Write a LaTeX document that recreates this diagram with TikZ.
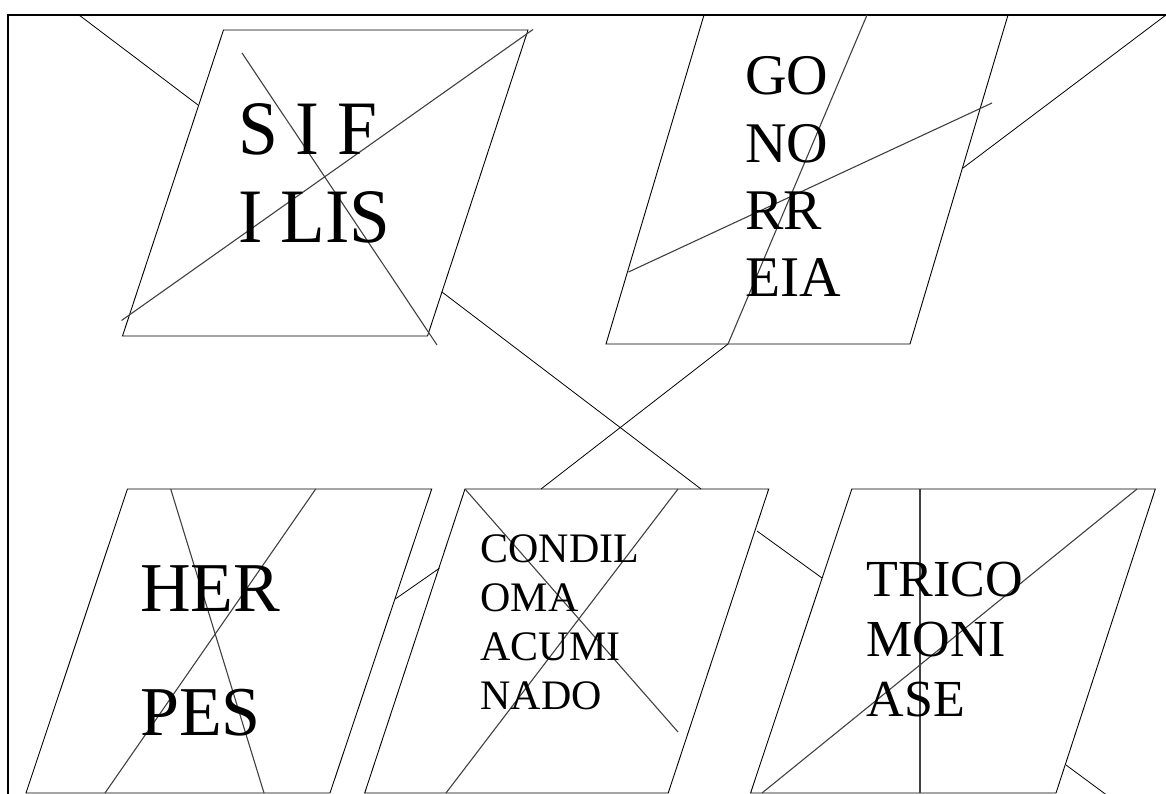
\documentclass[tikz,border=0pt]{standalone}
\usepackage{fontspec}
\setmainfont{Liberation Serif}
\tikzset{
  box/.style={draw=black, line width=0.9pt, line join=miter},
  cross/.style={draw=black!75, line width=1.1pt},
  link/.style={draw=black, line width=0.8pt},
  frameline/.style={draw=black, line width=2.2pt},
  lbl/.style={anchor=base west, inner sep=0pt, outer sep=0pt, text=black}
}
\begin{document}
\begin{tikzpicture}[x=1pt, y=-1pt]
\useasboundingbox (0,0) rectangle (1166,794);
\begin{scope}
\clip (0,0) rectangle (1166,794);
% frame
\coordinate (fbl) at (8,800);
\coordinate (ftl) at (8,15);
\coordinate (ftr) at (1172,15);
\draw[frameline] (fbl) -- (ftl) -- (ftr);

% ---------- SIFILIS ----------
\coordinate (s1) at (223.5,30);
\coordinate (s2) at (528,30);
\coordinate (s3) at (427.5,336);
\coordinate (s4) at (122.5,336);
\draw[box] (s1) -- (s2) -- (s3) -- (s4) -- cycle;
\coordinate (sa1) at (121.5,320.5);
\coordinate (sa2) at (533,29.5);
\coordinate (sb1) at (242,53);
\coordinate (sb2) at (437,345);
\draw[cross] (sa1) -- (sa2);
\draw[cross] (sb1) -- (sb2);
\node[lbl] (sif1) at (238,155) {\fontsize{77}{77}\selectfont\scalebox{0.93}[1]{S I F}};
\node[lbl] (sif2) at (238,242.7) {\fontsize{77}{77}\selectfont\scalebox{0.95}[1]{I LIS}};

% ---------- GONORREIA ----------
\coordinate (g1) at (704,15);
\coordinate (g2) at (1008,15);
\coordinate (g3) at (910,344);
\coordinate (g4) at (606,344);
\draw[box] (g1) -- (g2) -- (g3) -- (g4) -- cycle;
\coordinate (ga1) at (867,15);
\coordinate (ga2) at (728,344);
\coordinate (gb1) at (628.5,272);
\coordinate (gb2) at (992,103);
\draw[cross] (ga1) -- (ga2);
\draw[cross] (gb1) -- (gb2);
\node[lbl] (go1) at (745,95) {\fontsize{57.5}{57.5}\selectfont GO};
\node[lbl] (go2) at (745,162.2) {\fontsize{57.5}{57.5}\selectfont NO};
\node[lbl] (go3) at (745,229.4) {\fontsize{57.5}{57.5}\selectfont RR};
\node[lbl] (go4) at (745,296.6) {\fontsize{57.5}{57.5}\selectfont EIA};

% ---------- HERPES ----------
\coordinate (h1) at (127.4,489);
\coordinate (h2) at (431.7,489);
\coordinate (h3) at (330,793);
\coordinate (h4) at (26,793);
\draw[box] (h1) -- (h2) -- (h3) -- (h4) -- cycle;
\coordinate (ha1) at (170.7,489);
\coordinate (ha2) at (264,793);
\coordinate (hb1) at (315.7,489);
\coordinate (hb2) at (105,793);
\draw[cross] (ha1) -- (ha2);
\draw[cross] (hb1) -- (hb2);
\node[lbl] (her1) at (140.3,611.7) {\fontsize{70}{70}\selectfont HER};
\node[lbl] (her2) at (140.3,735) {\fontsize{70}{70}\selectfont PES};

% ---------- CONDILOMA ----------
\coordinate (c1) at (465,489);
\coordinate (c2) at (768.7,489);
\coordinate (c3) at (668.2,793);
\coordinate (c4) at (364.7,793);
\draw[box] (c1) -- (c2) -- (c3) -- (c4) -- cycle;
\coordinate (ca1) at (465,489);
\coordinate (ca2) at (678,732);
\coordinate (cb1) at (678,489);
\coordinate (cb2) at (446,793);
\draw[cross] (ca1) -- (ca2);
\draw[cross] (cb1) -- (cb2);
\node[lbl] (con1) at (480.4,562) {\fontsize{42}{42}\selectfont CONDIL};
\node[lbl] (con2) at (480.4,611) {\fontsize{42}{42}\selectfont OMA};
\node[lbl] (con3) at (480.4,660) {\fontsize{42}{42}\selectfont ACUMI};
\node[lbl] (con4) at (480.4,709) {\fontsize{42}{42}\selectfont NADO};

% ---------- TRICOMONIASE ----------
\coordinate (t1) at (851.8,489);
\coordinate (t2) at (1155.3,489);
\coordinate (t3) at (1056,793);
\coordinate (t4) at (750.6,793);
\draw[box] (t1) -- (t2) -- (t3) -- (t4) -- cycle;
\coordinate (ta1) at (920,489);
\coordinate (ta2) at (920,793);
\coordinate (tb1) at (762,793);
\coordinate (tb2) at (1137,489);
\draw[cross] (ta1) -- (ta2);
\draw[cross] (tb1) -- (tb2);
\node[lbl] (tri1) at (866.7,596.7) {\fontsize{52}{52}\selectfont TRICO};
\node[lbl] (tri2) at (866.7,656.7) {\fontsize{52}{52}\selectfont MONI};
\node[lbl] (tri3) at (866.7,716.7) {\fontsize{52}{52}\selectfont ASE};

% ---------- connectors ----------
\coordinate (k1a) at (79,15);
\coordinate (k1b) at (198,105);
\draw[link] (k1a) -- (k1b);
\coordinate (k2a) at (442,292);
\coordinate (k2b) at (701,489);
\draw[link] (k2a) -- (k2b);
\coordinate (k3b) at (541,489);
\draw[link] (ga2) -- (k3b);
\coordinate (k4a) at (963,168);
\coordinate (k4b) at (1166,15);
\draw[link] (k4a) -- (k4b);
\coordinate (k5a) at (395.3,599);
\coordinate (k5b) at (439.3,568.3);
\draw[link] (k5a) -- (k5b);
\coordinate (k6a) at (757,531);
\coordinate (k6b) at (822,578);
\draw[link] (k6a) -- (k6b);
\coordinate (k7a) at (1066,765);
\coordinate (k7b) at (1110,797.5);
\draw[link] (k7a) -- (k7b);
\end{scope}
\end{tikzpicture}
\end{document}
